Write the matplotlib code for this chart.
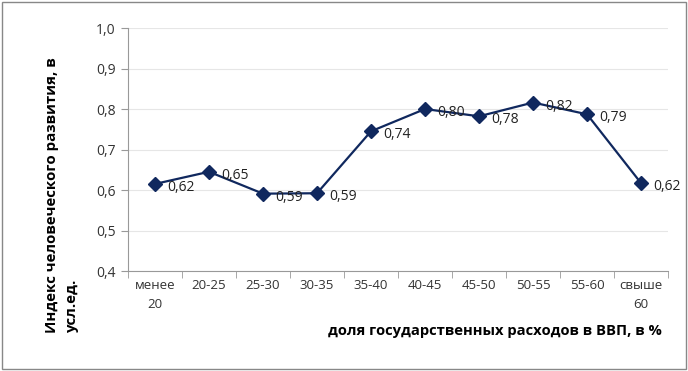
import matplotlib
matplotlib.use("Agg")
import matplotlib.pyplot as plt
from matplotlib.patches import Rectangle

# Data
categories = ["менее\n20", "20-25", "25-30", "30-35", "35-40",
              "40-45", "45-50", "50-55", "55-60", "свыше\n60"]
hdi = [0.615, 0.645, 0.591, 0.592, 0.745, 0.800, 0.782, 0.816, 0.787, 0.617]
labels = ["0,62", "0,65", "0,59", "0,59", "0,74", "0,80", "0,78", "0,82", "0,79", "0,62"]
yticks = [0.4, 0.5, 0.6, 0.7, 0.8, 0.9, 1.0]

plt.rcParams['font.family'] = ['Open Sans', 'DejaVu Sans']

fig = plt.figure(figsize=(6.88, 3.71), dpi=100)
ax = fig.add_axes([0.186, 0.2695, 0.785, 0.655])

line_color = "#10285e"
x = list(range(len(categories)))
ax.plot(x, hdi, color=line_color, lw=1.6, marker="D", ms=7, zorder=3)

for xi, yi, lab in zip(x, hdi, labels):
    ax.annotate(lab, (xi, yi), xytext=(9, -2.5), textcoords="offset points",
                fontsize=10, color="#222222", va="center", ha="left")

ax.set_xlim(-0.5, len(categories) - 0.5)
ax.set_ylim(0.4, 1.0)
ax.set_yticks(yticks)
ax.set_yticklabels([f"{v:.1f}".replace(".", ",") for v in yticks])
ax.set_xticks(x)
ax.set_xticklabels(categories, linespacing=1.6)
ax.set_xticks([i + 0.5 for i in range(-1, len(categories))], minor=True)
ax.tick_params(axis="x", which="major", length=0, pad=6, labelsize=9.5, colors="#333333")
ax.tick_params(axis="x", which="minor", length=5, color="#999999", direction="out")
ax.tick_params(axis="y", length=5, color="#999999", labelsize=10, colors="#333333", pad=4)
ax.tick_params(axis="y", colors="#999999", labelcolor="#333333")

ax.grid(axis="y", color="#e6e6e6", lw=0.8)
ax.set_axisbelow(True)
for s in ["top", "right"]:
    ax.spines[s].set_visible(False)
for s in ["left", "bottom"]:
    ax.spines[s].set_color("#999999")

fig.text(0.09, 0.475, "Индекс человеческого развития, в\nусл.ед.", rotation=90,
         fontsize=10.8, fontweight="bold", ha="center", va="center",
         multialignment="left", linespacing=1.5)
fig.text(0.72, 0.107, "доля государственных расходов в ВВП, в %",
         fontsize=10.6, fontweight="bold", ha="center", va="center")

fig.patches.append(Rectangle((0.003, 0.005), 0.994, 0.99, transform=fig.transFigure,
                             fill=False, edgecolor="#888888", lw=1))

fig.savefig("out.png", dpi=100)
